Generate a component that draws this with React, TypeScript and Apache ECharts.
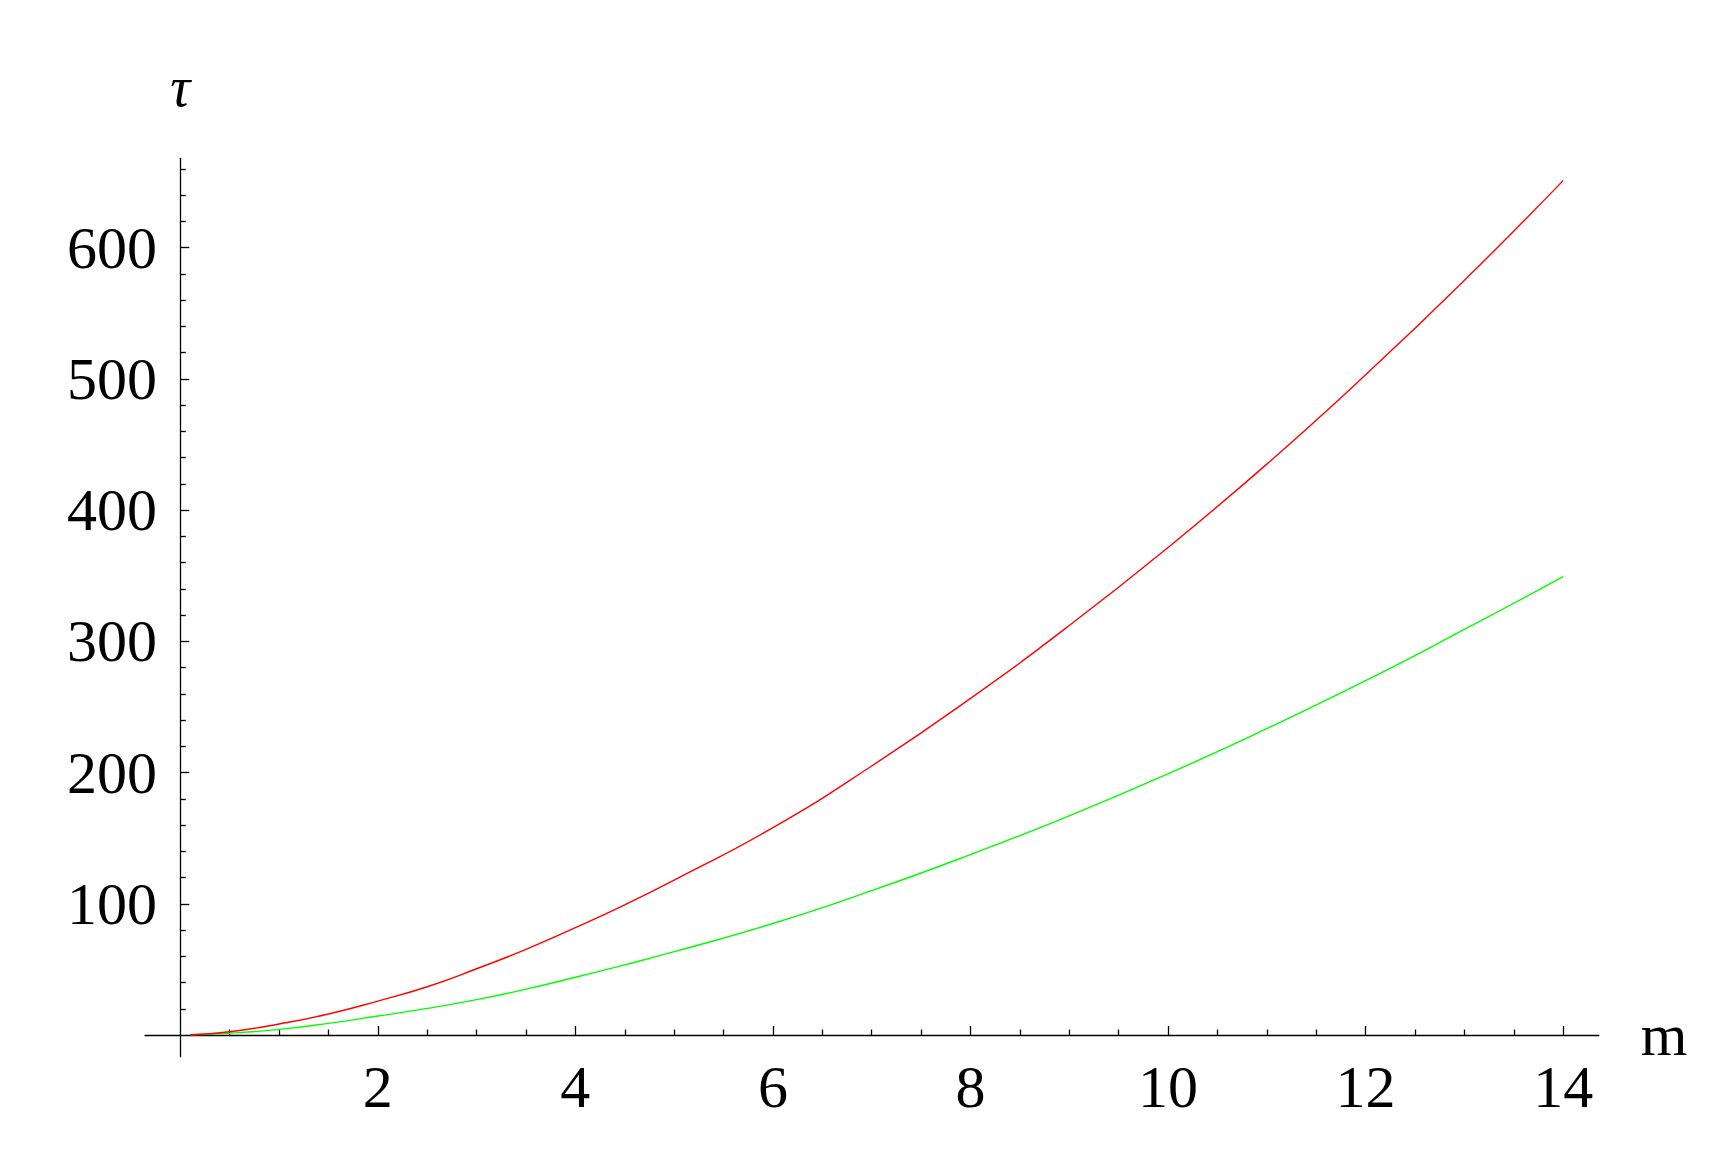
import React, { useEffect, useRef } from "react";
import * as echarts from "echarts";

const mValues = [0.1, 0.5, 1, 1.5, 2, 2.5, 3, 3.5, 4, 4.5, 5, 6, 7, 8, 9, 10, 11, 12, 13, 14];
const redTau = [0.2, 2.5, 8.4, 16, 25.9, 36.8, 50.5, 65.3, 81.8, 99.2, 118, 158, 205, 256.5, 312, 371.5, 435, 503, 575, 651];
const greenTau = [0.1, 1.4, 4.3, 8.9, 14.5, 20.3, 27, 35, 44, 53.5, 63.5, 85, 110, 137.5, 167, 199, 233.5, 270, 309, 349.2];
const xTickValues = [2, 4, 6, 8, 10, 12, 14];
const yTickValues = [100, 200, 300, 400, 500, 600];
const xName = "m";
const yName = "τ";

const FONT = "Liberation Serif";

export default function App() {
  const ref = useRef<HTMLDivElement>(null);
  useEffect(() => {
    if (!ref.current) return;
    const chart = echarts.init(ref.current, undefined, { renderer: "svg" });
    const axisLine = { show: true, onZero: true, lineStyle: { color: "#000", width: 1.3 } };
    chart.setOption({
      animation: false,
      backgroundColor: "#fff",
      grid: { left: 145, right: 135.3, top: 158.3, bottom: 95.3, containLabel: false },
      xAxis: {
        type: "value",
        min: -0.357,
        max: 14.36,
        splitNumber: 7,
        axisLine,
        splitLine: { show: false },
        axisTick: {
          show: true,
          inside: true,
          length: 9,
          customValues: xTickValues,
          lineStyle: { color: "#000", width: 1.3 },
        },
        minorTick: { show: true, splitNumber: 4, length: 5.5, lineStyle: { color: "#000", width: 1.3 } },
        axisLabel: {
          show: true,
          customValues: xTickValues,
          margin: 0,
          fontFamily: FONT,
          fontSize: 60,
          color: "#000",
          formatter: (v: number) => (xTickValues.includes(v) ? String(v) : ""),
        },
        name: xName,
        nameLocation: "end",
        nameGap: 42,
        nameTextStyle: { fontFamily: FONT, fontSize: 60, color: "#000", align: "left", verticalAlign: "middle" },
      },
      yAxis: {
        type: "value",
        min: -16.5,
        max: 668,
        splitNumber: 6,
        axisLine,
        splitLine: { show: false },
        axisTick: {
          show: true,
          inside: true,
          length: 9,
          customValues: yTickValues,
          lineStyle: { color: "#000", width: 1.3 },
        },
        minorTick: { show: true, splitNumber: 5, length: 5.5, lineStyle: { color: "#000", width: 1.3 } },
        axisLabel: {
          show: true,
          customValues: yTickValues,
          margin: -12,
          fontFamily: FONT,
          fontSize: 60,
          color: "#000",
          formatter: (v: number) => (yTickValues.includes(v) ? String(v) : ""),
        },
        name: yName,
        nameLocation: "end",
        nameGap: 71,
        nameTextStyle: {
          fontFamily: FONT,
          fontStyle: "italic",
          fontSize: 56,
          color: "#000",
          align: "center",
          verticalAlign: "middle",
        },
      },
      series: [
        {
          type: "line",
          data: mValues.map((m, i) => [m, greenTau[i]]),
          smooth: true,
          showSymbol: false,
          lineStyle: { color: "#00ff00", width: 1.4 },
          itemStyle: { color: "#00ff00" },
        },
        {
          type: "line",
          data: mValues.map((m, i) => [m, redTau[i]]),
          smooth: true,
          showSymbol: false,
          lineStyle: { color: "#ff0000", width: 1.4 },
          itemStyle: { color: "#ff0000" },
        },
      ],
    });
    return () => chart.dispose();
  }, []);
  return (
    <div
      ref={ref}
      style={{ position: "absolute", left: 0, top: 0, width: 1734, height: 1152, background: "#fff" }}
    />
  );
}
